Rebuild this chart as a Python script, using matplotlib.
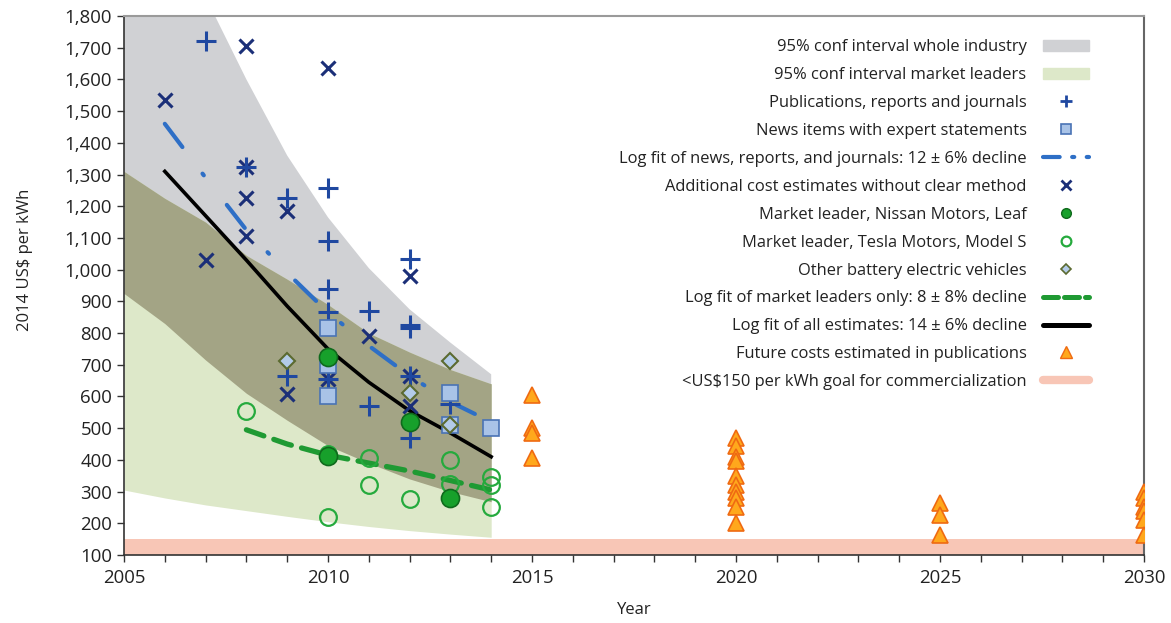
import matplotlib.pyplot as plt
import matplotlib.patches as mpatches
from matplotlib.lines import Line2D
from matplotlib.ticker import MultipleLocator, FuncFormatter

plt.rcParams['font.family'] = ['Open Sans', 'DejaVu Sans']

# confidence bands (read at each year)
band_years = [2005, 2006, 2007, 2008, 2009, 2010, 2011, 2012, 2013, 2014]
gray_hi = [2500, 2160, 1860, 1600, 1360, 1165, 1005, 875, 770, 670]
gray_lo = [925, 830, 715, 610, 525, 445, 390, 340, 300, 268]
green_hi = [1310, 1225, 1150, 1045, 970, 890, 800, 740, 685, 640]
green_lo = [305, 280, 258, 240, 222, 205, 190, 177, 166, 156]

# fit lines
all_fit_years = [2006, 2007, 2008, 2009, 2010, 2011, 2012, 2013, 2014]
all_fit = [1310, 1170, 1030, 885, 750, 645, 555, 485, 410]
news_fit_years = [2006, 2007, 2008, 2009, 2010, 2011, 2012, 2013, 2013.6]
news_fit = [1460, 1290, 1125, 990, 865, 760, 665, 583, 545]
leader_fit_years = [2008, 2009, 2010, 2011, 2012, 2013, 2014]
leader_fit = [495, 450, 415, 390, 365, 335, 305]

# data points
pub_x = [2007, 2008, 2009, 2009, 2010, 2010, 2010, 2010, 2010, 2011, 2011, 2012, 2012, 2012, 2012, 2012, 2013]
pub_y = [1720, 1325, 1225, 665, 1258, 1090, 940, 867, 655, 870, 570, 1035, 825, 815, 665, 468, 575]
news_x = [2010, 2010, 2010, 2013, 2013, 2014]
news_y = [815, 700, 600, 612, 510, 500]
extra_x = [2006, 2007, 2008, 2008, 2008, 2008, 2009, 2009, 2010, 2010, 2011, 2012, 2012, 2012]
extra_y = [1535, 1030, 1705, 1325, 1225, 1105, 1185, 608, 1635, 655, 790, 980, 665, 570]
nissan_x = [2010, 2010, 2012, 2013]
nissan_y = [725, 412, 518, 280]
tesla_x = [2008, 2010, 2010, 2011, 2011, 2012, 2013, 2013, 2014, 2014, 2014]
tesla_y = [555, 420, 220, 405, 320, 278, 400, 325, 345, 320, 250]
other_x = [2009, 2012, 2013, 2013]
other_y = [712, 612, 712, 510]
future_x = [2015, 2015, 2015, 2015,
            2020, 2020, 2020, 2020, 2020, 2020, 2020, 2020, 2020, 2020,
            2025, 2025, 2025,
            2030, 2030, 2030, 2030, 2030, 2030]
future_y = [605, 500, 485, 405,
            470, 445, 410, 395, 350, 320, 300, 280, 250, 200,
            265, 225, 163,
            300, 280, 252, 240, 212, 163]
goal_lo, goal_hi = 100, 150

fig = plt.figure(figsize=(11.71, 6.23), dpi=100)
ax = fig.add_axes([0.1059, 0.1091, 0.871, 0.8652])

c_gray = '#d0d1d4'
c_green = '#dde8c9'
c_olive = '#a3a485'
c_goal = '#f8c6b6'
c_text = '#222222'

# bands
ax.fill_between(band_years, gray_lo, gray_hi, color=c_gray, lw=0, zorder=1)
ax.fill_between(band_years, green_lo, green_hi, color=c_green, lw=0, zorder=1)
ax.fill_between(band_years, gray_lo, green_hi, color=c_olive, lw=0, zorder=1.5)
ax.axhspan(goal_lo, goal_hi, color=c_goal, lw=0, zorder=1)

# fits
ax.plot(all_fit_years, all_fit, color='black', lw=2.6, zorder=3)
ax.plot(news_fit_years, news_fit, color='#2e6fc6', lw=3, zorder=3,
        dashes=(7, 8, 0.5, 9), dash_capstyle='round')
ax.plot(leader_fit_years, leader_fit, color='#1f9a33', lw=3.8, zorder=3,
        dashes=(3.5, 2), dash_capstyle='round')

# markers
ax.plot(extra_x, extra_y, ls='none', marker='x', ms=10, mew=2.2, color='#1b2f78', zorder=4)
ax.plot(pub_x, pub_y, ls='none', marker='+', ms=15, mew=2.2, color='#1f48a0', zorder=4)
ax.plot(news_x, news_y, ls='none', marker='s', ms=11, mew=1.2, mfc='#a9c3e7',
        mec='#4a73b5', zorder=5)
ax.plot(other_x, other_y, ls='none', marker='D', ms=8, mew=1.5, mfc='#b3cbe8',
        mec='#5b6a30', zorder=6)
ax.plot(tesla_x, tesla_y, ls='none', marker='o', ms=12, mew=1.6, mfc='none',
        mec='#25aa3d', zorder=5)
ax.plot(nissan_x, nissan_y, ls='none', marker='o', ms=13, mew=1.2, mfc='#17a02b',
        mec='#0f6a1c', zorder=6)
ax.plot(future_x, future_y, ls='none', marker='^', ms=12, mew=1.2, mfc='#ffa81c',
        mec='#ef6a12', zorder=6)

ax.set_xlim(2005, 2030)
ax.set_ylim(100, 1800)
ax.xaxis.set_major_locator(MultipleLocator(5))
ax.xaxis.set_minor_locator(MultipleLocator(1))
ax.yaxis.set_major_locator(MultipleLocator(100))
ax.yaxis.set_major_formatter(FuncFormatter(lambda v, p: f'{int(v):,}'))
ax.tick_params(axis='both', which='both', direction='out', length=5, width=1,
               colors='#333333', labelsize=13.4, labelcolor=c_text)
ax.tick_params(axis='x', pad=5)

for side in ['left', 'bottom']:
    ax.spines[side].set_color('#333333')
    ax.spines[side].set_linewidth(1.2)
ax.spines['top'].set_color('#9a9a9a')
ax.spines['top'].set_linewidth(1.5)
ax.spines['right'].set_color('#666666')
ax.spines['right'].set_linewidth(1.5)

ax.set_xlabel('Year', fontsize=12, color=c_text, labelpad=11)
ax.set_ylabel('2014 US$ per kWh', fontsize=12, color=c_text)
ax.yaxis.set_label_coords(-0.089, 0.547)

# legend
handles = [
    mpatches.Patch(color=c_gray),
    mpatches.Patch(color=c_green),
    Line2D([], [], ls='none', marker='+', ms=9, mew=2, color='#1f48a0'),
    Line2D([], [], ls='none', marker='s', ms=7, mew=1.2, mfc='#a9c3e7', mec='#4a73b5'),
    Line2D([], [], color='#2e6fc6', lw=3, dashes=(4, 3, 0.5, 3), dash_capstyle='round'),
    Line2D([], [], ls='none', marker='x', ms=7, mew=2, color='#1b2f78'),
    Line2D([], [], ls='none', marker='o', ms=7, mew=1, mfc='#17a02b', mec='#0f6a1c'),
    Line2D([], [], ls='none', marker='o', ms=7, mew=1.6, mfc='none', mec='#25aa3d'),
    Line2D([], [], ls='none', marker='D', ms=5, mew=1.2, mfc='#b3cbe8', mec='#5b6a30'),
    Line2D([], [], color='#1f9a33', lw=3.6, dashes=(3, 1.2), dash_capstyle='round'),
    Line2D([], [], color='black', lw=3.6, solid_capstyle='round'),
    Line2D([], [], ls='none', marker='^', ms=8, mew=1, mfc='#ffa81c', mec='#ef6a12'),
    Line2D([], [], color=c_goal, lw=6, solid_capstyle='round'),
]
labels = [
    '95% conf interval whole industry',
    '95% conf interval market leaders',
    'Publications, reports and journals',
    'News items with expert statements',
    'Log fit of news, reports, and journals: 12 ± 6% decline',
    'Additional cost estimates without clear method',
    'Market leader, Nissan Motors, Leaf',
    'Market leader, Tesla Motors, Model S',
    'Other battery electric vehicles',
    'Log fit of market leaders only: 8 ± 8% decline',
    'Log fit of all estimates: 14 ± 6% decline',
    'Future costs estimated in publications',
    '<US$150 per kWh goal for commercialization',
]
leg = ax.legend(handles, labels, loc='upper right', bbox_to_anchor=(0.953, 0.969),
                frameon=False, markerfirst=False, fontsize=11.9, handlelength=2.8,
                handletextpad=1.0, labelspacing=0.72, borderaxespad=0)
for t in leg.get_texts():
    t.set_color(c_text)

plt.savefig('out.png', dpi=100)
plt.close()
